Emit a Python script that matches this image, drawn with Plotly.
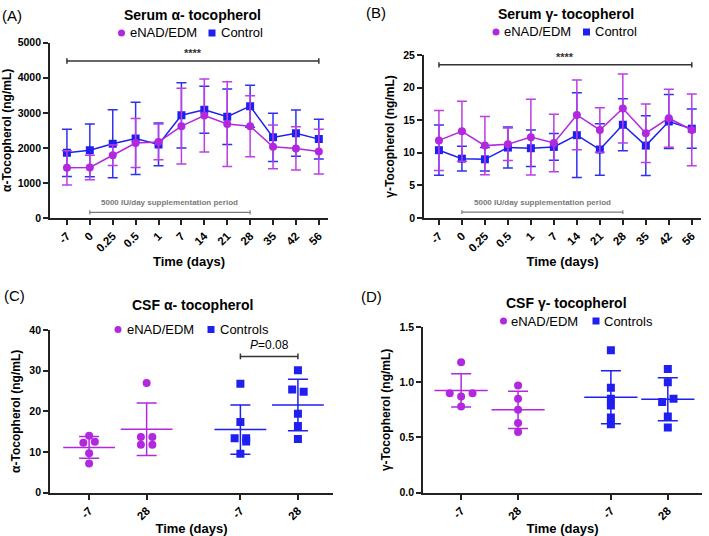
import numpy as np
import plotly.graph_objects as go

# ---------------- data ----------------
time_labels = ["-7", "0", "0.25", "0.5", "1", "7", "14", "21", "28", "35", "42", "56"]

a_enad_mean = [1430, 1440, 1790, 2140, 2170, 2620, 2925, 2680, 2620, 2030, 1985, 1895]
a_enad_sd = [490, 350, 290, 700, 510, 1080, 1040, 1210, 870, 625, 615, 640]
a_ctrl_mean = [1860, 1930, 2120, 2270, 2100, 2930, 3090, 2890, 3190, 2300, 2420, 2250]
a_ctrl_sd = [673, 750, 970, 1030, 610, 930, 670, 790, 600, 690, 660, 570]

b_enad_mean = [11.9, 13.3, 11.1, 11.3, 12.4, 11.5, 15.8, 13.5, 16.8, 13.0, 15.3, 13.5]
b_enad_sd = [4.6, 4.6, 4.45, 2.5, 5.8, 4.4, 5.35, 3.4, 5.3, 4.5, 4.45, 5.5]
b_ctrl_mean = [10.4, 9.1, 9.0, 10.8, 10.7, 10.9, 12.7, 10.5, 14.3, 11.1, 14.8, 13.7]
b_ctrl_sd = [3.85, 1.9, 1.8, 3.15, 2.8, 2.05, 6.5, 3.95, 4.0, 4.6, 4.15, 3.0]

csf_labels = ["-7", "28", "-7", "28"]
c_enad_m7 = [14.0, 12.3, 12.5, 9.7, 7.2]
c_enad_28 = [27.0, 13.7, 13.7, 11.8, 11.8]
c_ctrl_m7 = [26.8, 17.4, 13.4, 13.4, 12.6, 9.6]
c_ctrl_28 = [30.1, 25.4, 24.8, 19.4, 16.4, 13.2]

d_enad_m7 = [1.18, 0.90, 0.87, 0.90, 0.78]
d_enad_28 = [0.97, 0.85, 0.75, 0.63, 0.55]
d_ctrl_m7 = [1.29, 0.95, 0.85, 0.79, 0.68, 0.62]
d_ctrl_28 = [1.12, 1.00, 0.85, 0.82, 0.69, 0.59]

# horizontal jitter of the scatter dots (category units)
c_jit = [[0, -0.1, 0.1, 0, 0], [0, -0.1, 0.1, -0.1, 0.1],
         [0, 0, -0.1, 0.1, 0.1, 0], [0, -0.1, 0.1, 0, 0, 0]]
d_jit = [[0, -0.2, 0, 0.2, 0], [0, 0, 0, 0, 0],
         [0, 0, 0, 0, 0, 0], [0, 0, 0.1, -0.1, 0, 0]]

# ---------------- style ----------------
PURPLE = "#B228DE"
PURPLE_ERR = "#BC3FE2"
BLUE = "#1F1FF0"
BLUE_ERR = "#3030F0"
DARK = "#333333"
GREY = "#7a7a7a"
FONT = "Liberation Sans, Arial, sans-serif"
W, H = 709, 536
group_pos = [0, 1, 2.63, 3.63]

fig = go.Figure()


def serum_traces(xa, ya, mean_e, sd_e, mean_c, sd_c):
    fig.add_trace(go.Scatter(
        x=time_labels, y=mean_c, mode="lines+markers", xaxis=xa, yaxis=ya,
        line=dict(color=BLUE, width=1.5),
        marker=dict(symbol="square", size=8, color=BLUE),
        error_y=dict(type="data", array=sd_c, color=BLUE_ERR, thickness=1.5, width=5),
        showlegend=False))
    fig.add_trace(go.Scatter(
        x=time_labels, y=mean_e, mode="lines+markers", xaxis=xa, yaxis=ya,
        line=dict(color=PURPLE, width=1.5),
        marker=dict(symbol="circle", size=8, color=PURPLE),
        error_y=dict(type="data", array=sd_e, color=PURPLE_ERR, thickness=1.5, width=5),
        showlegend=False))


def csf_traces(xa, ya, groups, jits, msize, mean_len):
    colors = [PURPLE, PURPLE, BLUE, BLUE]
    symbols = ["circle", "circle", "square", "square"]
    for i, (vals, jit) in enumerate(zip(groups, jits)):
        vals = np.array(vals)
        m = vals.mean()
        sd = vals.std(ddof=1)
        fig.add_trace(go.Scatter(
            x=[group_pos[i]], y=[m], mode="markers", xaxis=xa, yaxis=ya,
            marker=dict(symbol="line-ew", size=mean_len,
                        line=dict(color=colors[i], width=1.5)),
            error_y=dict(type="constant", value=sd, color=colors[i], thickness=1.5, width=10),
            showlegend=False))
        fig.add_trace(go.Scatter(
            x=[group_pos[i] + j for j in jit], y=vals, mode="markers", xaxis=xa, yaxis=ya,
            marker=dict(symbol=symbols[i], size=msize, color=colors[i]),
            showlegend=False))


serum_traces("x", "y", a_enad_mean, a_enad_sd, a_ctrl_mean, a_ctrl_sd)
serum_traces("x2", "y2", b_enad_mean, b_enad_sd, b_ctrl_mean, b_ctrl_sd)
csf_traces("x3", "y3", [c_enad_m7, c_enad_28, c_ctrl_m7, c_ctrl_28], c_jit, 8, 37)
csf_traces("x4", "y4", [d_enad_m7, d_enad_28, d_ctrl_m7, d_ctrl_28], d_jit, 8, 38)


# brackets
def bracket(xa, ya, x0, x1, yv, cap, color, width=1.5):
    fig.add_trace(go.Scatter(
        x=[x0, x1], y=[yv, yv], mode="lines", xaxis=xa, yaxis=ya,
        line=dict(color=color, width=width),
        error_y=dict(type="constant", value=cap, width=0, color=color, thickness=width),
        showlegend=False, hoverinfo="skip"))


bracket("x", "y", "-7", "56", 4480, 80, DARK)
bracket("x", "y", "0", "28", 160, 60, GREY, 1.2)
bracket("x2", "y2", "-7", "56", 23.5, 0.4, DARK)
bracket("x2", "y2", "0", "28", 0.9, 0.3, GREY, 1.2)
bracket("x3", "y3", group_pos[2], group_pos[3], 33.5, 0.7, DARK)

i0 = time_labels.index("-7")
i1 = time_labels.index("56")
s0 = time_labels.index("0")
s1 = time_labels.index("28")

annos = []


def txt(text, x, y, xref, yref, size, bold=False, color="black", xanchor="center", yanchor="middle"):
    annos.append(dict(text=text, x=x, y=y, xref=xref, yref=yref, showarrow=False,
                      xanchor=xanchor, yanchor=yanchor,
                      font=dict(family=FONT, size=size, color=color,
                                weight="bold" if bold else "normal")))


def ptxt(text, px, py, size, bold=False, color="black", xanchor="center"):
    txt(text, px / W, 1 - py / H, "paper", "paper", size, bold, color, xanchor)


txt("****", (i0 + i1) / 2, 4720, "x", "y", 11, True, DARK)
txt("5000 IU/day supplementation period", (s0 + s1) / 2, 250, "x", "y", 8, True, GREY, yanchor="bottom")
txt("****", (i0 + i1) / 2, 24.7, "x2", "y2", 11, True, DARK)
txt("5000 IU/day supplementation period", (s0 + s1) / 2, 1.35, "x2", "y2", 8, True, GREY, yanchor="bottom")
txt("<i>P</i>=0.08", (group_pos[2] + group_pos[3]) / 2, 34.0, "x3", "y3", 12, False, "black", yanchor="bottom")

ptxt("Serum α- tocopherol", 192, 15, 14, True)
ptxt("Serum γ- tocopherol", 566, 14, 14, True)
ptxt("CSF α- tocopherol", 192, 305, 14, True)
ptxt("CSF γ- tocopherol", 566, 303, 14, True)
ptxt("(A)", 0, 15, 15, xanchor="left")
ptxt("(B)", 364, 13, 15, xanchor="left")
ptxt("(C)", 2, 295, 15, xanchor="left")
ptxt("(D)", 359, 296, 15, xanchor="left")

# legends: symbol + label, drawn on an overlay pixel axis
legend_items = [
    # (symbol, colour, symbol x, y, label, label x)
    ("circle", PURPLE, 121.5, 33, "eNAD/EDM", 128),
    ("square", BLUE, 212, 33, "Control", 218.5),
    ("circle", PURPLE, 496, 32, "eNAD/EDM", 502),
    ("square", BLUE, 586.5, 32, "Control", 592.5),
    ("circle", PURPLE, 118, 329.5, "eNAD/EDM", 125),
    ("square", BLUE, 211, 329.5, "Controls", 217.5),
    ("circle", PURPLE, 503.5, 321, "eNAD/EDM", 509),
    ("square", BLUE, 596, 321, "Controls", 601.5),
]
for sym, col, sx, sy, lab, lx in legend_items:
    fig.add_trace(go.Scatter(x=[sx], y=[sy], mode="markers", xaxis="x5", yaxis="y5",
                             marker=dict(symbol=sym, size=7, color=col),
                             showlegend=False, hoverinfo="skip"))
    ptxt(lab, lx, sy, 13, xanchor="left")

xtickfont = dict(family=FONT, size=11.5, color="black", weight="bold")
ytickfont = dict(family=FONT, size=10.5, color="black", weight="bold")
titlefont = dict(family=FONT, size=13, color="black", weight="bold")
ytitlefont = dict(family=FONT, size=12, color="black", weight="bold")


def xaxis(domain, rng, **kw):
    d = dict(domain=domain, range=rng, showline=True, linewidth=1.8, linecolor="#222",
             ticks="outside", ticklen=5, tickwidth=1.5, tickcolor="#222",
             tickangle=-45, tickfont=xtickfont, showgrid=False, zeroline=False,
             automargin=False,
             title=dict(text="Time (days)", font=titlefont, standoff=4))
    d.update(kw)
    return d


def yaxis(domain, rng, dtick, title, anchor, **kw):
    d = dict(domain=domain, range=rng, dtick=dtick, showline=True, linewidth=1.8, linecolor="#222",
             ticks="outside", ticklen=5, tickwidth=1.5, tickcolor="#222",
             tickfont=ytickfont, showgrid=False, zeroline=False, anchor=anchor,
             automargin=False,
             title=dict(text=title, font=ytitlefont, standoff=6))
    d.update(kw)
    return d


fig.update_layout(
    width=W, height=H, margin=dict(l=0, r=0, t=0, b=0),
    paper_bgcolor="white", plot_bgcolor="rgba(0,0,0,0)",
    showlegend=False,
    xaxis=xaxis([0.0705, 0.4626], [-0.74, 11.4], type="category",
                categoryorder="array", categoryarray=time_labels, anchor="y"),
    yaxis=yaxis([0.5933, 0.9203], [0, 5000], 1000, "α-Tocopherol (ng/mL)", "x"),
    xaxis2=xaxis([0.598, 0.9887], [-0.65, 11.4], type="category",
                 categoryorder="array", categoryarray=time_labels, anchor="y2"),
    yaxis2=yaxis([0.5933, 0.8974], [0, 25], 5, "γ-Tocopherol (ng/mL)", "x2"),
    xaxis3=xaxis([0.0705, 0.4697], [-0.68, 4.24], tickvals=group_pos, ticktext=csf_labels, anchor="y3"),
    yaxis3=yaxis([0.0808, 0.3843], [0, 40], 10, "α-Tocopherol (ng/mL)", "x3"),
    xaxis4=xaxis([0.5966, 0.9901], [-0.67, 4.23], tickvals=group_pos, ticktext=csf_labels, anchor="y4"),
    yaxis4=yaxis([0.0808, 0.3899], [0, 1.5], 0.5, "γ-Tocopherol (ng/mL)", "x4", tickformat=".1f"),
    xaxis5=dict(domain=[0, 1], range=[0, W], visible=False, fixedrange=True, anchor="y5"),
    yaxis5=dict(domain=[0, 1], range=[H, 0], visible=False, fixedrange=True, anchor="x5"),
    annotations=annos,
)

fig.write_html("out.html", config={"displayModeBar": False},
               post_script="document.body.style.margin='0';")
